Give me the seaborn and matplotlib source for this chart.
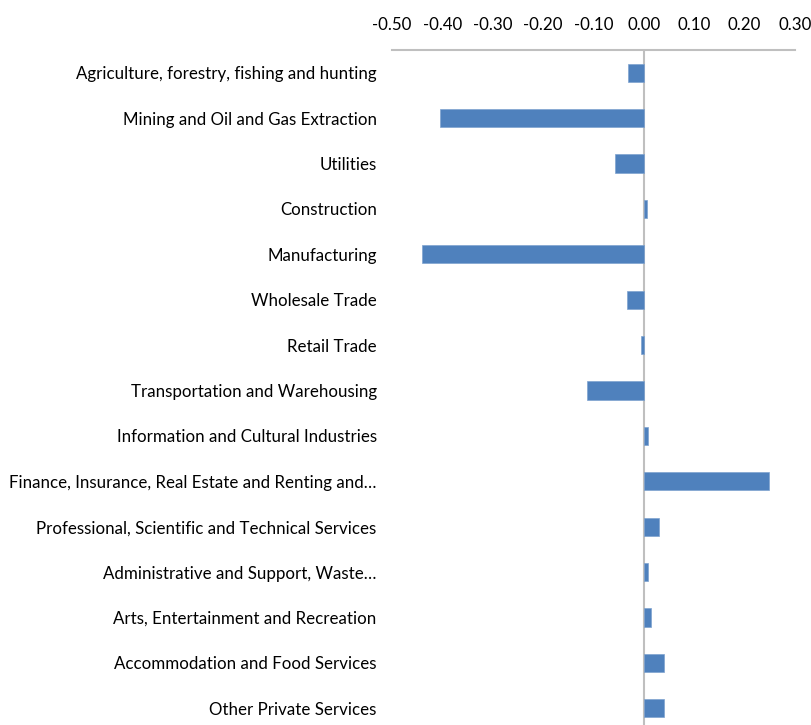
import matplotlib
matplotlib.use("Agg")
import matplotlib.pyplot as plt
import seaborn as sns
import pandas as pd

categories = [
    "Agriculture, forestry, fishing and hunting",
    "Mining and Oil and Gas Extraction",
    "Utilities",
    "Construction",
    "Manufacturing",
    "Wholesale Trade",
    "Retail Trade",
    "Transportation and Warehousing",
    "Information and Cultural Industries",
    "Finance, Insurance, Real Estate and Renting and\u2026",
    "Professional, Scientific and Technical Services",
    "Administrative and Support, Waste\u2026",
    "Arts, Entertainment and Recreation",
    "Accommodation and Food Services",
    "Other Private Services",
]
values = [-0.032, -0.404, -0.057, 0.006, -0.44, -0.034, -0.005, -0.113,
          0.008, 0.248, 0.031, 0.008, 0.014, 0.04, 0.04]
xticks = [-0.5, -0.4, -0.3, -0.2, -0.1, 0.0, 0.1, 0.2, 0.3]

sns.set_style("white")
plt.rcParams['font.family'] = ['Lato', 'DejaVu Sans']

df = pd.DataFrame({"cat": categories, "val": values})

fig = plt.figure(figsize=(8.11, 7.25), dpi=100)
ax = fig.add_axes([392/811, -6/725, 403/811, 681/725])
sns.barplot(data=df, y="cat", x="val", orient="h", color="#4F81BD",
            width=0.4, saturation=1, ax=ax, edgecolor="#7FA3CF", linewidth=0.5)

ax.set_xlim(-0.5, 0.3)
ax.set_ylim(14.5, -0.5)
ax.set_xticks(xticks)
ax.set_xticklabels([f"{v:.2f}" for v in xticks])
ax.xaxis.tick_top()
ax.tick_params(axis='x', length=0, pad=12, labelsize=12.2, colors="#000000")
ax.tick_params(axis='y', length=0, pad=11, labelsize=12.2)
for lab in ax.get_yticklabels():
    lab.set_color("#000000")
ax.set_xlabel("")
ax.set_ylabel("")
for s in ["bottom", "left", "right"]:
    ax.spines[s].set_visible(False)
ax.spines["top"].set_color("#BFBFBF")
ax.spines["top"].set_linewidth(1.5)
ax.axvline(0, color="#BFBFBF", linewidth=1.5, zorder=0)
ax.grid(False)

fig.savefig("out.png", dpi=100)
